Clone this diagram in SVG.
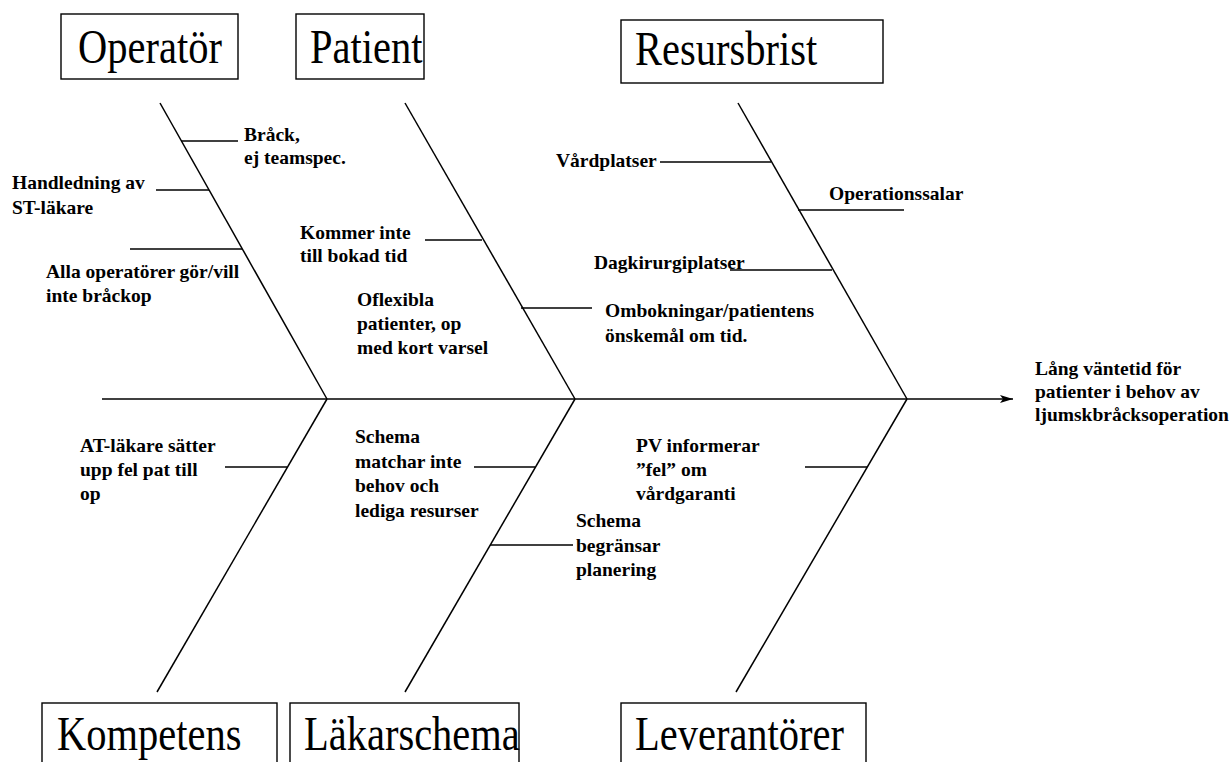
<svg xmlns="http://www.w3.org/2000/svg" width="1231" height="762" viewBox="0 0 1231 762">
  <style>
    .box { fill: #ffffff; stroke: #000000; stroke-width: 1.4; }
    .title { font-family: "Liberation Serif", "Times New Roman", serif; font-size: 40.5px; fill: #000000; }
    .cause { font-family: "Liberation Serif", "Times New Roman", serif; font-size: 19.5px; font-weight: bold; fill: #000000; }
    .bone { fill: none; stroke: #000000; stroke-width: 1.5; }
    .twig { fill: none; stroke: #000000; stroke-width: 1.4; }
  </style>
  <defs>
    <marker id="head" markerWidth="14" markerHeight="10" refX="13" refY="5" orient="auto" markerUnits="userSpaceOnUse">
      <path d="M0,1 L13,5 L0,9 L3,5 Z" fill="#000000"/>
    </marker>
  </defs>
  <rect width="1231" height="762" fill="#ffffff"/>

  <!-- spine, category bones and cause twigs -->
  <g id="connectors">
    <line class="bone" x1="102" y1="399" x2="1013" y2="399" marker-end="url(#head)"/>
    <line class="bone" x1="160" y1="103" x2="327" y2="399"/>
    <line class="bone" x1="405" y1="103" x2="575" y2="399"/>
    <line class="bone" x1="738" y1="103" x2="907" y2="399"/>
    <line class="bone" x1="327" y1="399" x2="157" y2="692"/>
    <line class="bone" x1="575" y1="399" x2="405" y2="692"/>
    <line class="bone" x1="907" y1="399" x2="736" y2="692"/>

    <line class="twig" x1="181" y1="141" x2="238" y2="141"/>
    <line class="twig" x1="156" y1="190" x2="209" y2="190"/>
    <line class="twig" x1="130" y1="249" x2="242" y2="249"/>
    <line class="twig" x1="425" y1="240" x2="482" y2="240"/>
    <line class="twig" x1="521" y1="308" x2="592" y2="308"/>
    <line class="twig" x1="660" y1="162" x2="771" y2="162"/>
    <line class="twig" x1="798" y1="210" x2="904" y2="210"/>
    <line class="twig" x1="730" y1="270" x2="832" y2="270"/>
    <line class="twig" x1="225" y1="467" x2="287" y2="467"/>
    <line class="twig" x1="474" y1="467" x2="535" y2="467"/>
    <line class="twig" x1="490" y1="545" x2="573" y2="545"/>
    <line class="twig" x1="805" y1="467" x2="867" y2="467"/>
  </g>

  <!-- category headings -->
  <g id="operator">
    <rect class="box" x="61" y="14" width="177" height="65"/>
    <text class="title" transform="translate(78,63) scale(1,1.18)">Operatör</text>
  </g>
  <g id="patient">
    <rect class="box" x="296" y="14" width="128" height="65"/>
    <text class="title" transform="translate(310,63) scale(1,1.18)">Patient</text>
  </g>
  <g id="resursbrist">
    <rect class="box" x="621" y="20" width="262" height="63"/>
    <text class="title" transform="translate(635,65) scale(1,1.18)">Resursbrist</text>
  </g>
  <g id="kompetens">
    <rect class="box" x="42" y="703" width="235" height="80"/>
    <text class="title" transform="translate(57,750) scale(1,1.18)">Kompetens</text>
  </g>
  <g id="lakarschema">
    <rect class="box" x="290" y="703" width="229" height="80"/>
    <text class="title" transform="translate(304,750) scale(1,1.18)">Läkarschema</text>
  </g>
  <g id="leverantorer">
    <rect class="box" x="621" y="703" width="245" height="80"/>
    <text class="title" transform="translate(635,750) scale(1,1.18)">Leverantörer</text>
  </g>

  <!-- causes -->
  <g id="brack">
    <text class="cause" x="244" y="141"><tspan x="244" y="141">Bråck,</tspan><tspan x="244" dy="23">ej teamspec.</tspan></text>
  </g>
  <g id="handledning">
    <text class="cause" x="12" y="189"><tspan x="12" y="189">Handledning av</tspan><tspan x="12" dy="24.5">ST-läkare</tspan></text>
  </g>
  <g id="alla-operatorer">
    <text class="cause" x="46" y="278"><tspan x="46" y="278">Alla operatörer gör/vill</tspan><tspan x="46" dy="23.5">inte bråckop</tspan></text>
  </g>
  <g id="kommer-inte">
    <text class="cause" x="300" y="239"><tspan x="300" y="239">Kommer inte</tspan><tspan x="300" dy="23.3">till bokad tid</tspan></text>
  </g>
  <g id="oflexibla">
    <text class="cause" x="357" y="306"><tspan x="357" y="306">Oflexibla</tspan><tspan x="357" dy="24.2">patienter, op</tspan><tspan x="357" dy="24.2">med kort varsel</tspan></text>
  </g>
  <g id="ombokningar">
    <text class="cause" x="605" y="317"><tspan x="605" y="317">Ombokningar/patientens</tspan><tspan x="605" dy="25">önskemål om tid.</tspan></text>
  </g>
  <g id="vardplatser">
    <text class="cause" x="556" y="167">Vårdplatser</text>
  </g>
  <g id="operationssalar">
    <text class="cause" x="829" y="200">Operationssalar</text>
  </g>
  <g id="dagkirurgiplatser">
    <text class="cause" x="594" y="269">Dagkirurgiplatser</text>
  </g>
  <g id="effekt">
    <text class="cause" x="1035" y="375"><tspan x="1035" y="375">Lång väntetid för</tspan><tspan x="1035" dy="22.8">patienter i behov av</tspan><tspan x="1035" dy="22.8">ljumskbråcksoperation</tspan></text>
  </g>
  <g id="at-lakare">
    <text class="cause" x="80" y="452"><tspan x="80" y="452">AT-läkare sätter</tspan><tspan x="80" dy="24.2">upp fel pat till</tspan><tspan x="80" dy="24.2">op</tspan></text>
  </g>
  <g id="schema-matchar">
    <text class="cause" x="355" y="443"><tspan x="355" y="443">Schema</tspan><tspan x="355" dy="24.7">matchar inte</tspan><tspan x="355" dy="24.7">behov och</tspan><tspan x="355" dy="24.7">lediga resurser</tspan></text>
  </g>
  <g id="schema-begransar">
    <text class="cause" x="576" y="527"><tspan x="576" y="527">Schema</tspan><tspan x="576" dy="24.7">begränsar</tspan><tspan x="576" dy="24.7">planering</tspan></text>
  </g>
  <g id="pv-informerar">
    <text class="cause" x="636" y="452"><tspan x="636" y="452">PV informerar</tspan><tspan x="636" dy="24.2">”fel” om</tspan><tspan x="636" dy="24.2">vårdgaranti</tspan></text>
  </g>
</svg>
